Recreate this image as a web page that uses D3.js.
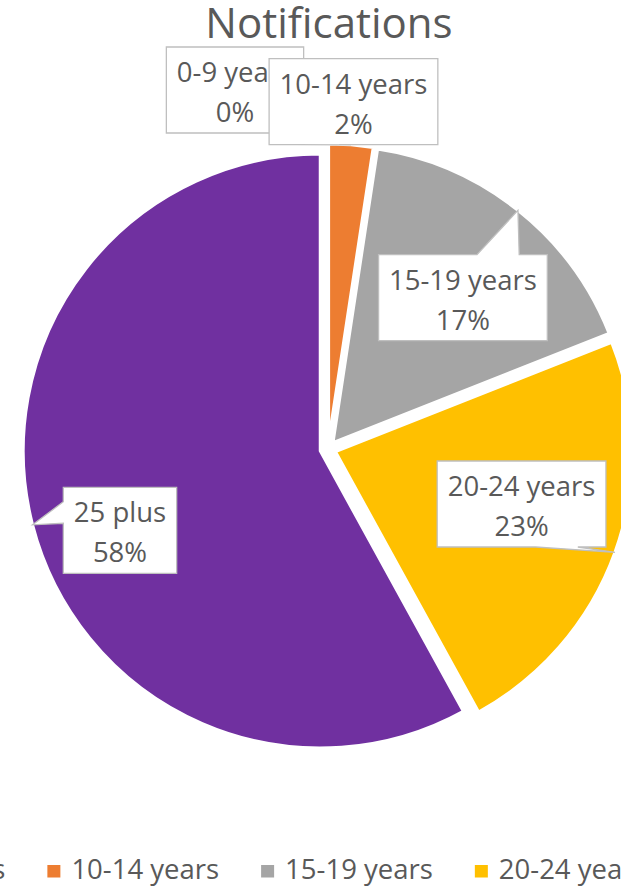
<!DOCTYPE html>
<html>
<head>
<meta charset="utf-8">
<script src="https://cdn.jsdelivr.net/npm/d3@7"></script>
<style>
  html, body { margin: 0; padding: 0; background: #ffffff; }
  svg { display: block; }
</style>
</head>
<body>
<script>
// ---- data ----
const categories = ["0-9 years", "10-14 years", "15-19 years", "20-24 years", "25 plus"];
const values = [0, 2.4, 16.6, 23.0, 58.0];
const colors = ["#4472C4", "#ED7D31", "#A5A5A5", "#FFC000", "#7030A0"];
const title = "Notifications";

// ---- layout / style ----
const W = 621, H = 888;
const cx = 328, cy = 449, R = 297, explode = 8;
const textColor = "#595959";
const font = "'Open Sans', 'DejaVu Sans', sans-serif";
// label box centre offsets relative to the callout tip (layout only)
const labelOffsets = [[-93, -54], [2.5, -43.3], [-55, 87.2], [-93.4, -48.3], [87.4, 5.6]];

const svg = d3.select("body").append("svg").attr("width", W).attr("height", H);
svg.append("rect").attr("width", W).attr("height", H).attr("fill", "#fff");

// title
svg.append("text").attr("x", 329).attr("y", 38)
  .attr("text-anchor", "middle").attr("font-family", font).attr("font-size", 42)
  .attr("fill", textColor).text(title);

// pie
const total = d3.sum(values);
const pie = d3.pie().value(d => d).sort(null);
const arcs = pie(values);
const arc = d3.arc().innerRadius(0).outerRadius(R);
const g = svg.append("g").attr("transform", `translate(${cx},${cy})`);

arcs.forEach((a, i) => {
  if (a.endAngle - a.startAngle <= 0) return;
  const mid = (a.startAngle + a.endAngle) / 2;
  g.append("path")
    .attr("d", arc(a))
    .attr("transform", `translate(${Math.sin(mid) * explode},${-Math.cos(mid) * explode})`)
    .attr("fill", colors[i])
    .attr("stroke", "#fff")
    .attr("stroke-width", 3);
});

// callout path (Excel-like wedgeRectCallout)
function callout(l, t, w, h, px, py) {
  const bx = l + w / 2, by = t + h / 2;
  const dxn = (px - bx) / (w / 2), dyn = (py - by) / (h / 2);
  const r = l + w, b = t + h;
  if (Math.abs(dxn) <= 1 && Math.abs(dyn) <= 1) {
    return `M${l},${t}H${r}V${b}H${l}Z`;
  }
  if (Math.abs(dyn) >= Math.abs(dxn)) {
    const x1 = px < bx ? l + w * 2 / 12 : l + w * 7 / 12;
    const x2 = px < bx ? l + w * 5 / 12 : l + w * 10 / 12;
    if (py < by) return `M${l},${t}H${x1}L${px},${py}L${x2},${t}H${r}V${b}H${l}Z`;
    return `M${l},${t}H${r}V${b}H${x2}L${px},${py}L${x1},${b}H${l}Z`;
  } else {
    const y1 = py < by ? t + h * 2 / 12 : t + h * 7 / 12;
    const y2 = py < by ? t + h * 5 / 12 : t + h * 10 / 12;
    if (px < bx) return `M${l},${t}H${r}V${b}H${l}V${y2}L${px},${py}L${l},${y1}Z`;
    return `M${l},${t}H${r}V${y1}L${px},${py}L${r},${y2}V${b}H${l}Z`;
  }
}

// labels
const labelLayer = svg.append("g");
arcs.forEach((a, i) => {
  const mid = (a.startAngle + a.endAngle) / 2;
  const scx = cx + Math.sin(mid) * explode, scy = cy - Math.cos(mid) * explode;
  const px = scx + Math.sin(mid) * R, py = scy - Math.cos(mid) * R;
  const bcx = px + labelOffsets[i][0], bcy = py + labelOffsets[i][1];
  const pct = Math.round(values[i] / total * 100) + "%";
  const lg = labelLayer.append("g");
  const path = lg.append("path");
  const t1 = lg.append("text").attr("x", bcx).attr("y", bcy - 8).text(categories[i]);
  const t2 = lg.append("text").attr("x", bcx).attr("y", bcy + 32).text(pct);
  lg.selectAll("text").attr("text-anchor", "middle").attr("font-family", font)
    .attr("font-size", 27.5).attr("fill", textColor);
  const tw = Math.max(t1.node().getComputedTextLength(), t2.node().getComputedTextLength());
  const w = tw + 21, h = 86;
  path.attr("d", callout(bcx - w / 2, bcy - h / 2, w, h, px, py))
    .attr("fill", "#fff").attr("stroke", "#BFBFBF").attr("stroke-width", 1.3);
});

// legend
const legendCenterX = 335, legendBaseline = 879;
const lgd = svg.append("g");
const items = categories.map((c, i) => {
  const ig = lgd.append("g");
  ig.append("rect").attr("x", 0).attr("y", -14).attr("width", 13).attr("height", 12.5).attr("fill", colors[i]);
  const tx = ig.append("text").attr("x", 24).attr("y", 0).attr("font-family", font)
    .attr("font-size", 27.5).attr("fill", textColor).text(c);
  return { ig, w: 24 + tx.node().getComputedTextLength() };
});
const gap = 42;
const totalW = d3.sum(items, d => d.w) + gap * (items.length - 1);
let x0 = legendCenterX - totalW / 2;
items.forEach(it => {
  it.ig.attr("transform", `translate(${x0},${legendBaseline})`);
  x0 += it.w + gap;
});
</script>
</body>
</html>
